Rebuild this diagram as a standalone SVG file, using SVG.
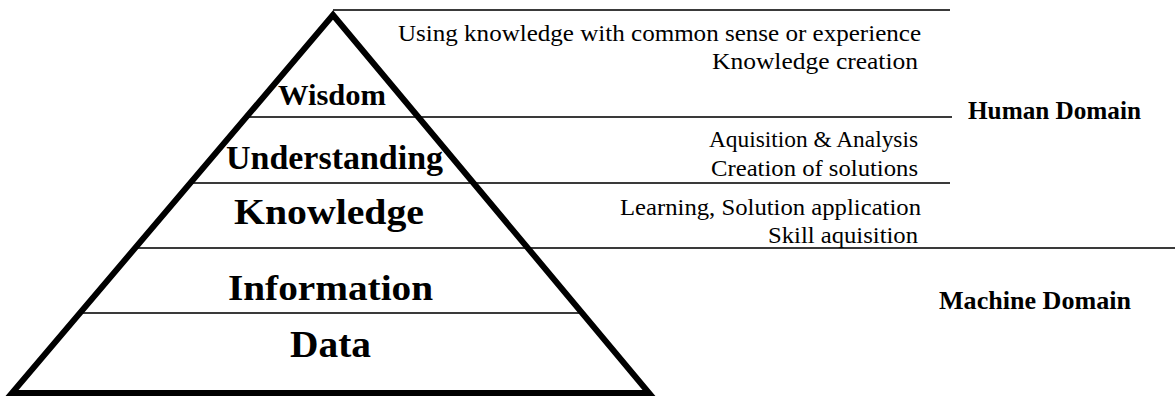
<svg xmlns="http://www.w3.org/2000/svg" width="1175" height="397" viewBox="0 0 1175 397">
<style>
.bg{fill:#ffffff}
.pyr{fill:none;stroke:#000;stroke-width:6;stroke-linejoin:miter;stroke-miterlimit:10}
.div{stroke:#3a3a3a;stroke-width:2;fill:none}
text{font-family:"Liberation Serif","Times New Roman",Tinos,"DejaVu Serif","Noto Serif",FreeSerif,serif;fill:#000}
.lvl{font-weight:bold}
.desc{font-size:24px}
.dom{font-weight:bold;font-size:25px}
</style>
<rect class="bg" x="0" y="0" width="1175" height="397"/>
<g id="connectors">
<line class="div" x1="333" y1="10" x2="950" y2="10"/>
<line class="div" x1="246" y1="117" x2="952" y2="117"/>
<line class="div" x1="190" y1="183" x2="950" y2="183"/>
<line class="div" x1="135" y1="248" x2="1175" y2="248"/>
<line class="div" x1="80" y1="313" x2="580" y2="313"/>
</g>
<g id="pyramid">
<path class="pyr" d="M333,15 L12,393 L649,393 Z"/>
</g>
<g id="wisdom">
<text class="lvl" x="278" y="105" font-size="29" textLength="108" lengthAdjust="spacingAndGlyphs">Wisdom</text>
</g>
<g id="understanding">
<text class="lvl" x="226" y="169" font-size="33" textLength="217" lengthAdjust="spacingAndGlyphs">Understanding</text>
</g>
<g id="knowledge">
<text class="lvl" x="234" y="224" font-size="36" textLength="190" lengthAdjust="spacingAndGlyphs">Knowledge</text>
</g>
<g id="information">
<text class="lvl" x="228" y="300" font-size="36" textLength="205" lengthAdjust="spacingAndGlyphs">Information</text>
</g>
<g id="data">
<text class="lvl" x="290" y="357" font-size="37" textLength="81" lengthAdjust="spacingAndGlyphs">Data</text>
</g>
<g id="wisdom-desc">
<text class="desc" x="398" y="41" textLength="523" lengthAdjust="spacingAndGlyphs">Using knowledge with common sense or experience</text>
<text class="desc" x="712" y="69" textLength="206" lengthAdjust="spacingAndGlyphs">Knowledge creation</text>
</g>
<g id="understanding-desc">
<text class="desc" x="709" y="147" textLength="209" lengthAdjust="spacingAndGlyphs">Aquisition &amp; Analysis</text>
<text class="desc" x="711" y="176" textLength="207" lengthAdjust="spacingAndGlyphs">Creation of solutions</text>
</g>
<g id="knowledge-desc">
<text class="desc" x="620" y="215" textLength="301" lengthAdjust="spacingAndGlyphs">Learning, Solution application</text>
<text class="desc" x="768" y="243" textLength="150" lengthAdjust="spacingAndGlyphs">Skill aquisition</text>
</g>
<g id="human-domain">
<text class="dom" x="968" y="119" textLength="173" lengthAdjust="spacingAndGlyphs">Human Domain</text>
</g>
<g id="machine-domain">
<text class="dom" x="939" y="309" textLength="192" lengthAdjust="spacingAndGlyphs">Machine Domain</text>
</g>
</svg>
